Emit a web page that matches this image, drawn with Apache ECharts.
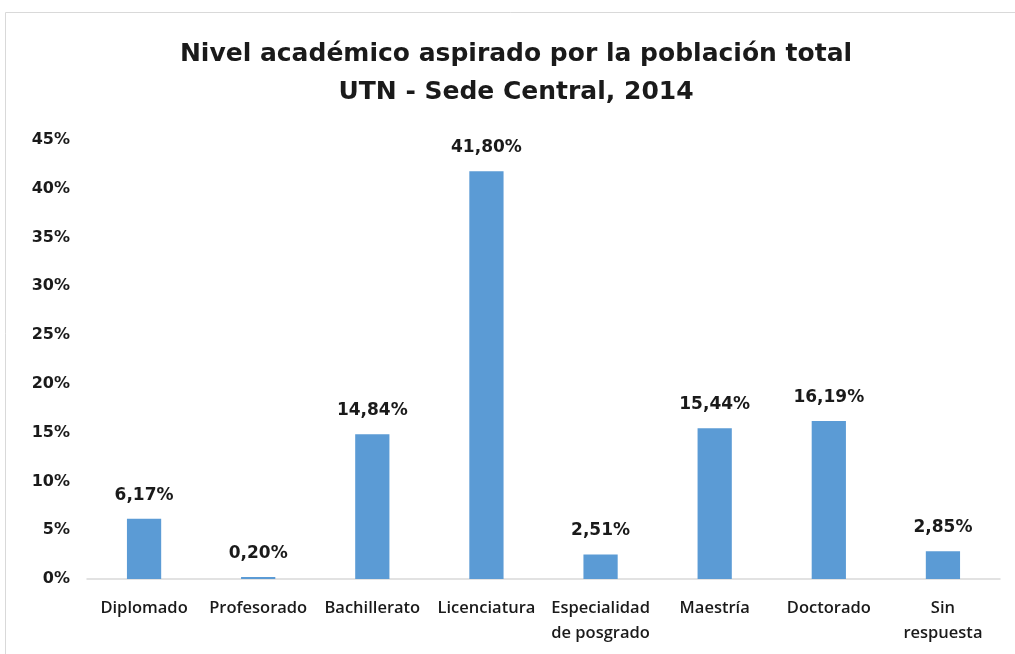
<!DOCTYPE html>
<html>
<head>
<meta charset="utf-8">
<script src="https://cdn.jsdelivr.net/npm/echarts@6/dist/echarts.min.js"></script>
<style>
  html, body { margin: 0; padding: 0; background: #fff; }
  #chart { width: 1015px; height: 654px; }
</style>
</head>
<body>
<div id="chart"></div>
<script>
// categorias y valores (%)
var categorias = ['Diplomado', 'Profesorado', 'Bachillerato', 'Licenciatura', 'Especialidad\nde posgrado', 'Maestría', 'Doctorado', 'Sin\nrespuesta'];
var valores = [6.17, 0.20, 14.84, 41.80, 2.51, 15.44, 16.19, 2.85];
var tituloLineas = ['Nivel académico aspirado por la población total', 'UTN - Sede Central, 2014'];

var chart = echarts.init(document.getElementById('chart'));

var option = {
  backgroundColor: '#fff',
  animation: false,
  title: {
    text: tituloLineas.join('\n'),
    left: 511,
    textAlign: 'center',
    top: 30,
    textStyle: {
      fontFamily: 'DejaVu Sans',
      fontSize: 25,
      fontWeight: 'bold',
      color: '#1a1a1a',
      lineHeight: 38
    }
  },
  graphic: [{
    type: 'rect',
    shape: { x: 5.5, y: 12.5, width: 1020, height: 700 },
    style: { fill: 'none', stroke: '#d9d9d9', lineWidth: 1 }
  }],
  grid: {
    left: 87,
    right: 15,
    top: 140,
    bottom: 75
  },
  xAxis: {
    type: 'category',
    data: categorias,
    axisTick: { show: false },
    axisLine: { lineStyle: { color: '#d9d9d9', width: 1.5 } },
    axisLabel: {
      interval: 0,
      margin: 17,
      fontFamily: 'Open Sans',
      fontWeight: 600,
      fontSize: 16.5,
      lineHeight: 25,
      color: '#1a1a1a'
    }
  },
  yAxis: {
    type: 'value',
    min: 0,
    max: 45,
    interval: 5,
    splitLine: { show: false },
    axisLine: { show: false },
    axisTick: { show: false },
    axisLabel: {
      formatter: '{value}%',
      margin: 17,
      fontFamily: 'DejaVu Sans',
      fontWeight: 'bold',
      fontSize: 16,
      color: '#1a1a1a'
    }
  },
  series: [{
    type: 'bar',
    data: valores,
    barWidth: '30%',
    itemStyle: { color: '#5B9BD5' },
    label: {
      show: true,
      position: 'top',
      distance: 15,
      formatter: function (p) {
        return p.value.toFixed(2).replace('.', ',') + '%';
      },
      fontFamily: 'DejaVu Sans',
      fontWeight: 'bold',
      fontSize: 17,
      color: '#1a1a1a'
    }
  }]
};

chart.setOption(option);
</script>
</body>
</html>
